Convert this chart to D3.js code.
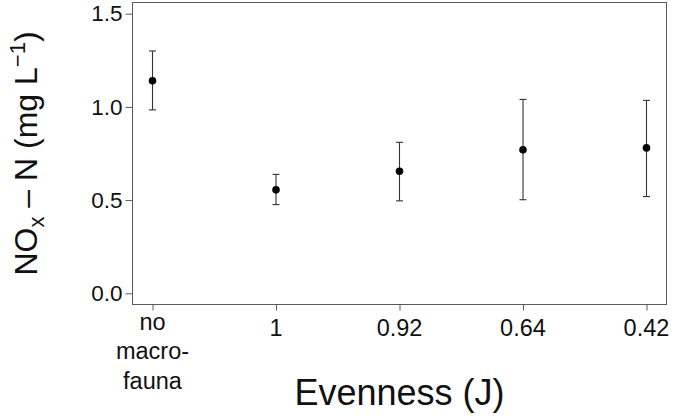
<!DOCTYPE html>
<html>
<head>
<meta charset="utf-8">
<script src="https://cdn.jsdelivr.net/npm/d3@7"></script>
<style>
  html, body { margin: 0; padding: 0; background: #fff; }
  svg { display: block; }
  text { font-family: "Liberation Sans", Arial, sans-serif; fill: #111; }
</style>
</head>
<body>
<svg id="chart" width="675" height="418"></svg>
<script>
// ---- data ----
const categories = ["no\nmacro-\nfauna", "1", "0.92", "0.64", "0.42"];
const means = [1.14, 0.555, 0.655, 0.77, 0.78];
const upper = [1.30, 0.638, 0.81, 1.04, 1.035];
const lower = [0.984, 0.476, 0.496, 0.502, 0.519];
const yTicks = [0, 0.5, 1.0, 1.5];
const xTitle = "Evenness (J)";

// ---- layout ----
const box = { left: 132.5, right: 666.5, top: 2.5, bottom: 304.5 };
const svg = d3.select("#chart");

const x = d3.scalePoint()
  .domain(categories)
  .range([box.left, box.right])
  .padding(0.162);

const y = d3.scaleLinear()
  .domain([-0.06, 1.56])
  .range([box.bottom, box.top]);

// frame
svg.append("rect")
  .attr("x", box.left).attr("y", box.top)
  .attr("width", box.right - box.left).attr("height", box.bottom - box.top)
  .attr("fill", "none").attr("stroke", "#5a5a5a").attr("stroke-width", 1);

// y axis
const yAxis = svg.append("g")
  .attr("transform", `translate(${box.left},0)`)
  .call(d3.axisLeft(y).tickValues(yTicks).tickFormat(d3.format(".1f")).tickSize(7).tickPadding(3));
yAxis.select(".domain").remove();
yAxis.selectAll(".tick line").attr("stroke", "#5a5a5a");
yAxis.selectAll(".tick text")
  .attr("font-size", 22.5).attr("fill", "#111")
  .style("font-family", "'Liberation Sans', Arial, sans-serif");

// x axis
const xAxis = svg.append("g")
  .attr("transform", `translate(0,${box.bottom})`)
  .call(d3.axisBottom(x).tickSize(6).tickFormat(""));
xAxis.select(".domain").remove();
xAxis.selectAll(".tick line").attr("stroke", "#5a5a5a");

// x tick labels (multi-line)
categories.forEach(c => {
  const lines = c.split("\n");
  const t = svg.append("text")
    .attr("text-anchor", "middle")
    .attr("font-size", 23.5)
    .attr("x", x(c));
  const first = lines.length > 1 ? 329.5 : 336;
  lines.forEach((ln, i) => {
    t.append("tspan").attr("x", x(c)).attr("y", first + i * 29.5).text(ln);
  });
});

// error bars
const capW = 3.5;
const g = svg.append("g");
categories.forEach((c, i) => {
  const cx = x(c);
  g.append("line").attr("x1", cx).attr("x2", cx)
    .attr("y1", y(lower[i])).attr("y2", y(upper[i]))
    .attr("stroke", "#333").attr("stroke-width", 1.1);
  [upper[i], lower[i]].forEach(v => {
    g.append("line").attr("x1", cx - capW).attr("x2", cx + capW)
      .attr("y1", y(v)).attr("y2", y(v))
      .attr("stroke", "#333").attr("stroke-width", 1.1);
  });
  g.append("circle").attr("cx", cx).attr("cy", y(means[i])).attr("r", 3.8).attr("fill", "#000");
});

// x title
svg.append("text")
  .attr("x", (box.left + box.right) / 2)
  .attr("y", 405)
  .attr("text-anchor", "middle")
  .attr("font-size", 36)
  .text(xTitle);

// y title
const yt = svg.append("text")
  .attr("transform", `translate(37,${(box.top + box.bottom) / 2}) rotate(-90)`)
  .attr("text-anchor", "middle")
  .attr("font-size", 32);
yt.append("tspan").text("NO");
yt.append("tspan").attr("font-size", 22).attr("dy", 7).text("x");
yt.append("tspan").attr("dy", -7).text(" \u2013 N (mg L");
yt.append("tspan").attr("font-size", 22).attr("dy", -12).text("\u22121");
yt.append("tspan").attr("dy", 12).text(")");
</script>
</body>
</html>
